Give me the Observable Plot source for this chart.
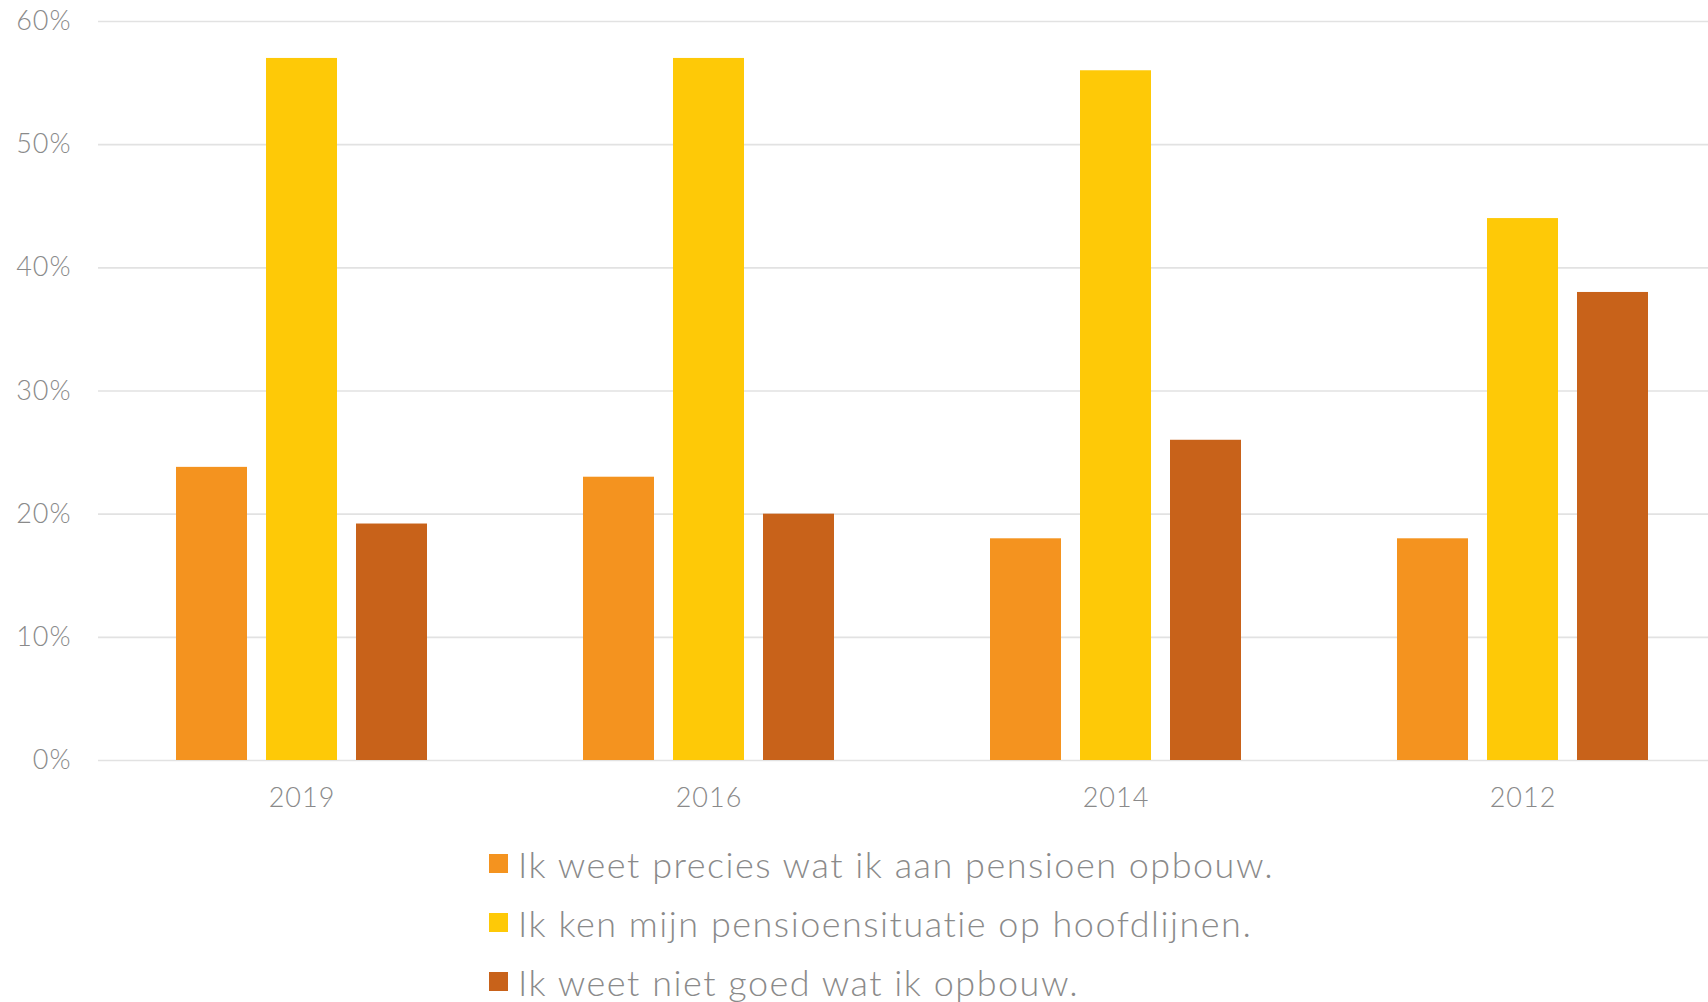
<!DOCTYPE html>
<html>
<head>
<meta charset="utf-8">
<script src="https://cdn.jsdelivr.net/npm/d3@7"></script>
<script src="https://cdn.jsdelivr.net/npm/@observablehq/plot@0.6"></script>
<style>
  html, body { margin: 0; padding: 0; background: #fff; overflow: hidden; }
  #chart svg { display: block; }
  #chart svg text { letter-spacing: 1px; font-weight: 300; }
  .legend { margin-top: 4px; padding-left: 489px; font-family: Lato, sans-serif; font-size: 36px; font-weight: 300; letter-spacing: 1.5px; color: #8a8a8a; }
  .legend .row { height: 59px; display: flex; align-items: center; white-space: nowrap; }
  .legend .sw { width: 19px; height: 19px; margin-right: 10px; flex: none; }
</style>
</head>
<body>
<div id="chart"></div>
<script>
const years = ["2019", "2016", "2014", "2012"];
const series = [
  "Ik weet precies wat ik aan pensioen opbouw.",
  "Ik ken mijn pensioensituatie op hoofdlijnen.",
  "Ik weet niet goed wat ik opbouw."
];
const preciesValues = [23.8, 23, 18, 18];
const hoofdlijnenValues = [57, 57, 56, 44];
const nietGoedValues = [19.2, 20, 26, 38];
const colors = ["#F4931F", "#FEC907", "#C8621A"];
const yTicks = [0, 10, 20, 30, 40, 50, 60];

const seriesValues = [preciesValues, hoofdlijnenValues, nietGoedValues];
const data = years.flatMap((yr, i) => series.map((s, j) => ({year: yr, series: s, value: seriesValues[j][i]})));

const chart = Plot.plot({
  width: 1708,
  height: 830,
  marginTop: 21,
  marginBottom: 70,
  marginLeft: 97,
  marginRight: 0,
  style: {fontFamily: "Lato, sans-serif", fontSize: "27px", color: "#8a8a8a", background: "white", overflow: "hidden"},
  fx: {domain: years, range: [97, 1727.6], padding: 0, label: null, axis: "bottom", tickSize: 0, tickPadding: 27},
  x: {domain: series, axis: null, paddingInner: 0.215, paddingOuter: 0.857},
  y: {domain: [0, 60], ticks: yTicks, tickFormat: d => d + "%", tickSize: 0, tickPadding: 27, label: null},
  color: {domain: series, range: colors},
  marks: [
    Plot.ruleY(yTicks, {stroke: "#e2e2e2", strokeWidth: 1.7}),
    Plot.barY(data, {fx: "year", x: "series", y: "value", fill: "series"})
  ]
});
document.getElementById("chart").appendChild(chart);

const legend = document.createElement("div");
legend.className = "legend";
series.forEach((s, j) => {
  const row = document.createElement("div");
  row.className = "row";
  const sw = document.createElement("span");
  sw.className = "sw";
  sw.style.background = colors[j];
  const t = document.createElement("span");
  t.textContent = s;
  row.appendChild(sw);
  row.appendChild(t);
  legend.appendChild(row);
});
document.body.appendChild(legend);
</script>
</body>
</html>
